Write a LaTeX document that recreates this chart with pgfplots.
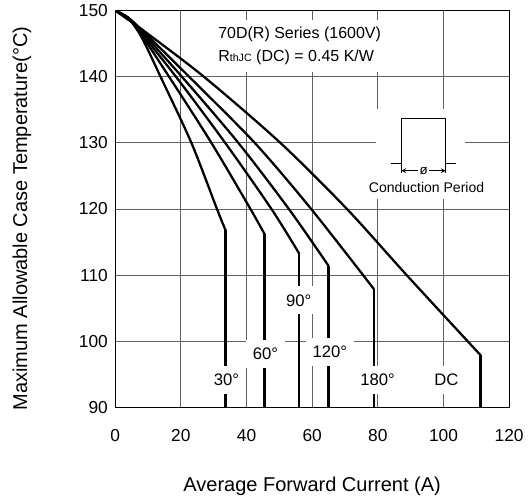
\documentclass[border=0pt]{standalone}
\usepackage{fontspec}
\setmainfont{Liberation Sans}
\usepackage{pgfplots}
\pgfplotsset{compat=1.18}
\begin{document}
\begin{tikzpicture}
\begin{axis}[
  scale only axis, width=295.5pt, height=297.75pt,
  xmin=0, xmax=120, ymin=90, ymax=150,
  xtick={0,20,...,120}, ytick={90,100,...,150},
  grid=major,
  major grid style={color=black!62, line width=0.7pt},
  axis line style={line width=0.8pt, black},
  major tick length=0pt,
  /pgf/number format/assume math mode=true,
  tick label style={font=\fontsize{13}{13}\selectfont},
  xticklabel style={yshift=-13pt},
  yticklabel style={xshift=-2pt},
  xlabel={Average Forward Current (A)},
  ylabel={Maximum Allowable Case Temperature(°C)},
  label style={font=\fontsize{15}{15}\selectfont},
  xlabel style={at={(rel axis cs:0.5,-0.199)}, anchor=center},
  ylabel style={at={(rel axis cs:-0.2368,0.476)}, anchor=center},
  curve/.style={black, no marks, line width=1.7pt, line join=round},
]
% curved parts
\addplot[curve, smooth] coordinates {(0,150) (4,148.8) (8,146.0) (13.8,140) (23.2,130) (31,120) (33.6,116.8)};
\addplot[curve, smooth] coordinates {(0,150) (4,148.8) (8,146.3) (16.4,140) (29.3,130) (41.2,120) (45.5,116.2)};
\addplot[curve, smooth] coordinates {(0,150) (4,148.9) (8,146.5) (18.5,140) (33.5,130) (47.6,120) (56,113.3)};
\addplot[curve, smooth] coordinates {(0,150) (4,148.9) (8,146.8) (20.3,140) (37.5,130) (52.9,120) (65,111.4)};
\addplot[curve, smooth] coordinates {(0,150) (4,148.9) (8,147.1) (22.5,140) (42.5,130) (59.7,120) (78.8,107.9)};
\addplot[curve, smooth] coordinates {(0,150) (4,148.6) (8,147.2) (27,140) (50.3,130) (70.6,120) (88.8,110) (111.3,97.9)};
% vertical parts
\addplot[curve] coordinates {(33.6,116.8) (33.6,90)};
\addplot[curve] coordinates {(45.5,116.2) (45.5,90)};
\addplot[curve] coordinates {(56,113.3) (56,90)};
\addplot[curve] coordinates {(65,111.4) (65,90)};
\addplot[curve] coordinates {(78.8,107.9) (78.8,90)};
\addplot[curve] coordinates {(111.3,97.9) (111.3,90)};

% title box
\node[fill=white, anchor=west, align=left, inner xsep=3pt, inner ysep=5pt,
      font=\fontsize{12}{17.7}\selectfont] at (axis cs:30.1,144.67)
  {70D(R) Series (1600V)\\R{\fontsize{8}{8}\selectfont thJC} (DC) = 0.45 K/W};

% inset
\fill[white] (axis cs:79.5,121.5) rectangle (axis cs:106.5,135.1);
\draw[line width=0.75pt] (axis cs:83.9,126.85) -- (axis cs:87.2,126.85) -- (axis cs:87.2,133.7)
   -- (axis cs:100.7,133.7) -- (axis cs:100.7,126.85) -- (axis cs:103.8,126.85);
\draw[line width=0.75pt] (axis cs:87.2,126.85) -- (axis cs:87.2,125.5);
\draw[line width=0.75pt] (axis cs:100.7,126.85) -- (axis cs:100.7,125.5);
\draw[line width=0.6pt, <->, >=stealth] (axis cs:87.2,125.8) -- (axis cs:100.7,125.8);
\node[fill=white, inner sep=1pt, font=\fontsize{10}{10}\selectfont] at (axis cs:94,125.8) {ø};
\node[fill=white, inner sep=1pt, font=\fontsize{10.5}{10.5}\selectfont] at (axis cs:94.85,123.3) {Conduction Period};

% curve labels
\begin{scope}[every node/.style={fill=white, inner xsep=5pt, inner ysep=6pt, font=\fontsize{12.5}{12.5}\selectfont}]
\node at (axis cs:33.9,94.2) {30°};
\node at (axis cs:45.8,98.1) {60°};
\node at (axis cs:55.9,106.2) {90°};
\node at (axis cs:65.4,98.4) {120°};
\node at (axis cs:79.9,94.2) {180°};
\node at (axis cs:100.9,94.2) {DC};
\end{scope}

\coordinate (bl) at (rel axis cs:-0.2926,-0.2292);
\coordinate (tr) at (rel axis cs:1.0475,1.0176);
\end{axis}
\path (bl) rectangle (tr);
\end{tikzpicture}
\end{document}
